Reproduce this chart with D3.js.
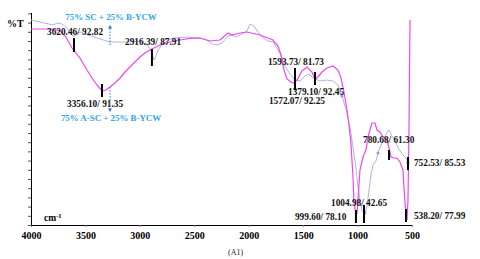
<!DOCTYPE html>
<html><head><meta charset="utf-8">
<script src="https://cdn.jsdelivr.net/npm/d3@7"></script>
<style>
html,body{margin:0;padding:0;background:#fff;}
svg{display:block;}
</style></head>
<body>
<script>
// ---- data (wavenumber cm-1, %T) ----
const aScWn = [4000,3807,3734,3679,3623,3587,3550,3486,3440,3394,3348,3311,3274,3228,3182,3136,3091,3045,2999,2953,2907,2815,2723,2631,2539,2448,2356,2264,2190,2154,2080,2016,1896,1777,1731,1703,1676,1648,1612,1584,1556,1511,1465,1419,1391,1364,1327,1281,1226,1180,1152,1125,1097,1079,1061,1042,1033,1015,1005,996,978,950,923,904,868,840,822,794,767,730,711,693,665,638,610,583,574,564,555,546,537,528,523,518];
const aScT  = [98,98,97,94,88.5,86,83.5,77.5,73.5,70,67,67.5,69,71,73.5,76.5,79,81.5,84,86,87.5,90,91.5,92.5,93.3,93.5,92,92.5,96,95,96,96.5,95,92.5,89.5,85,77.5,73,71.5,71,72.5,77,79,76.5,73,74,76.5,78.5,79.5,77.5,73.5,66.5,57.5,50,41,24,11,5.5,5.5,12.5,27.5,34,37.5,44,51,51,47.5,46.5,44,42.5,38.5,34,33.5,33.5,31.5,27.5,19,11,5.5,2.5,12.5,46,77.5,102.5];

const scWn = [4000,3917,3798,3752,3715,3669,3623,3605,3577,3541,3476,3394,3274,3118,2999,2934,2898,2870,2852,2833,2787,2696,2567,2448,2383,2337,2291,2245,2190,2154,2117,2062,2016,1988,1952,1915,1878,1823,1777,1740,1703,1667,1621,1575,1529,1483,1446,1410,1345,1281,1226,1180,1143,1097,1070,1042,1015,996,978,959,932,913,895,877,858,831,812,794,767,739,711,684,656,629,583,555,537];
const scT  = [102.5,101.5,100,101,100.5,98.5,95,94,96,96.5,95,93.5,91.5,91.5,92,90,87.5,82.5,84.5,87.5,91,93.5,94,93.5,92.5,90.5,90,91,94.5,95,94,95.5,97,100.5,99.5,96.5,94,92,91.5,88.5,84.5,79.5,75.5,72.5,72,74.5,75.5,73.5,72,72.5,72,70,64.5,56,49,39,28.5,19,12.5,7,6,9.5,17.5,25,30,32,36,39,41.5,45.5,47.5,44.5,42.5,38.5,35,33.5,31];

// peak markers: wavenumber, top %T, bottom %T
const markWn  = [3605,3348,2889,1575,1391,711,537,941,1015,555];
const markTop = [93.5,70.5,88,78.5,76.5,37.5,34,10,7.5,8];
const markBot = [86.5,64,79.5,67.5,70,32.5,27.5,1,1,1.5];

// peak labels: text, left wavenumber, %T
const labelText = ["3620.46/ 92.82","3356.10/ 91.35","2916.39/ 87.91","1593.73/ 81.73","1572.07/ 92.25","1379.10/ 92.45","780.68/ 61.30","752.53/ 85.53","1004.98/ 42.65","999.60/ 78.10","538.20/ 77.99"];
const labelWn   = [3853,3669,3136,1823,1814,1639,950,482,1244,1575,482];
const labelT    = [96.5,60.5,91.5,81.5,62,66.5,42.5,31,11,4,4.5];

// sample names with arrows
const seriesNames = ["75% SC + 25% B-YCW","75% A-SC + 25% B-YCW"];
const nameWn = [3265,3265];
const nameT  = [104,53.5];
const arrowFrom = [90,69];
const arrowTo   = [100,56.5];

const xTicks = [4000,3500,3000,2500,2000,1500,1000,500];

// ---- drawing ----
const W=480,H=259;
const svg=d3.select("body").append("svg").attr("width",W).attr("height",H);
const x=d3.scaleLinear().domain([4000,500]).range([31,412]);
const y=d3.scaleLinear().domain([0,106]).range([225,13]);
const serif="'Liberation Serif','Times New Roman',serif";

// x axis
const xa=svg.append("g").attr("transform","translate(0,225)")
  .call(d3.axisBottom(x).tickValues(xTicks).tickFormat(d3.format("d")).tickSize(2).tickPadding(4.5));
xa.select(".domain").attr("stroke","#000").attr("d","M31,0.5H413");
xa.selectAll("text").attr("font-family",serif).attr("font-weight","bold").attr("font-size",10).attr("fill","#000");
xa.selectAll("line").attr("stroke","#888");

// y axis
const ya=svg.append("g").attr("transform","translate(31,0)")
  .call(d3.axisLeft(y).tickValues(d3.range(0,106.1,4.6)).tickFormat("").tickSize(3));
ya.select(".domain").attr("stroke","#000").attr("d","M0.5,13V225.5");
ya.selectAll("line").attr("stroke","#555");

// curves
const line=d3.line().x(d=>x(d[0])).y(d=>y(d[1]));
svg.append("path").datum(scWn.map((w,i)=>[w,scT[i]]))
  .attr("d",line).attr("fill","none").attr("stroke","#b2b2e2").attr("stroke-width",1);
svg.append("path").datum(aScWn.map((w,i)=>[w,aScT[i]]))
  .attr("d",line).attr("fill","none").attr("stroke","#f046f0").attr("stroke-width",1.2);

// small blue point markers on SC curve
svg.selectAll("circle.pt").data([[932,6],[1143,64.5],[537,31],[812,36]]).enter().append("circle")
  .attr("cx",d=>x(d[0])).attr("cy",d=>y(d[1])).attr("r",1.6).attr("fill","#8a8ae8").attr("opacity",0.8);

// peak markers
svg.selectAll("line.mk").data(markWn).enter().append("line")
  .attr("x1",(d)=>x(d)).attr("x2",(d)=>x(d))
  .attr("y1",(d,i)=>y(markTop[i])).attr("y2",(d,i)=>y(markBot[i]))
  .attr("stroke","#000").attr("stroke-width",2);

// peak labels
svg.selectAll("text.lb").data(labelText).enter().append("text")
  .attr("x",(d,i)=>x(labelWn[i])).attr("y",(d,i)=>y(labelT[i])).attr("dy","0.35em")
  .attr("font-family",serif).attr("font-weight","bold").attr("font-size",9.3).attr("fill","#111")
  .text(d=>d);

// sample names
svg.selectAll("text.nm").data(seriesNames).enter().append("text")
  .attr("x",(d,i)=>x(nameWn[i])).attr("y",(d,i)=>y(nameT[i])).attr("dy","0.35em")
  .attr("text-anchor","middle")
  .attr("font-family",serif).attr("font-weight","bold").attr("font-size",8.9).attr("fill","#2ea6ea")
  .text(d=>d);

// dotted arrows
arrowFrom.forEach((f,i)=>{
  const ax=x(3274), y0=y(f), y1=y(arrowTo[i]);
  const dir = y1<y0 ? -1 : 1;
  svg.append("line").attr("x1",ax).attr("x2",ax).attr("y1",y0).attr("y2",y1-dir*3)
    .attr("stroke","#3a6fd8").attr("stroke-width",1).attr("stroke-dasharray","1.5,1.5");
  svg.append("path").attr("d",`M${ax-2},${y1-dir*3.5}L${ax},${y1}L${ax+2},${y1-dir*3.5}Z`)
    .attr("fill","#3a6fd8");
});

// axis titles
svg.append("text").attr("x",7).attr("y",23).attr("dy","0.35em")
  .attr("font-family",serif).attr("font-weight","bold").attr("font-size",10).text("%T");
const cm=svg.append("text").attr("x",44).attr("y",218).attr("dy","0.35em")
  .attr("font-family",serif).attr("font-weight","bold").attr("font-size",9.5);
cm.append("tspan").text("cm");
cm.append("tspan").attr("dy","-3").attr("font-size",6.5).text("-1");

svg.append("text").attr("x",228).attr("y",252).attr("dy","0.35em")
  .attr("font-family",serif).attr("font-size",8).attr("fill","#222").text("(A1)");
</script>
</body></html>
